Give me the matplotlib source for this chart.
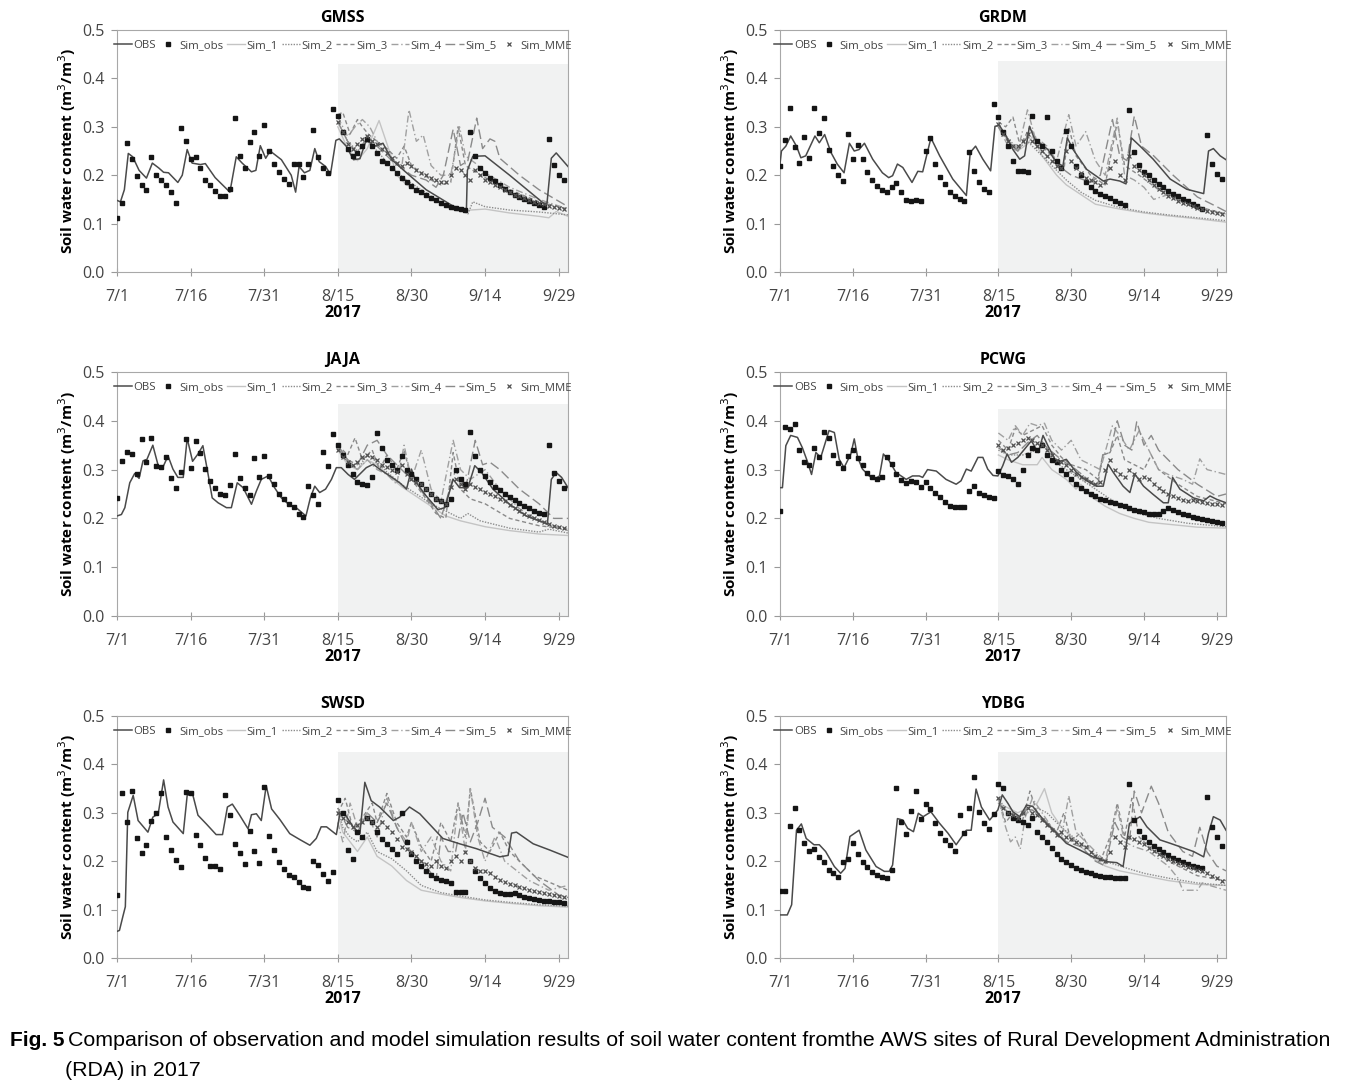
import numpy as np
import matplotlib
matplotlib.use("Agg")
import matplotlib.pyplot as plt

# days counted from 7/1; the forecast period (shaded) starts 8/15 = day 45
tick_days = [0, 15, 30, 45, 60, 75, 90]
tick_labels = ["7/1", "7/16", "7/31", "8/15", "8/30", "9/14", "9/29"]
sim_names = ["Sim_1", "Sim_2", "Sim_3", "Sim_4", "Sim_5"]

# ---------------- GMSS ----------------
gmss_obs = [(0, 0.148), (0.7, 0.145), (1.5, 0.17), (2.3, 0.245), (3.2, 0.238), (4.5, 0.21), (6, 0.194),
            (7.2, 0.225), (8.5, 0.215), (9.5, 0.206), (10.5, 0.205), (12.4, 0.185), (13.3, 0.2), (14.3, 0.253),
            (15.3, 0.225), (17, 0.222), (18, 0.224), (20, 0.195), (22, 0.175), (23, 0.165), (24.3, 0.238),
            (25.5, 0.225), (27.4, 0.207), (28.3, 0.21), (29.2, 0.261), (30.3, 0.235), (31.2, 0.25), (33.5, 0.232),
            (35.5, 0.2), (36.4, 0.165), (37.1, 0.218), (38.2, 0.205), (39.3, 0.21), (40.3, 0.255), (41.2, 0.228),
            (42.5, 0.218), (43.5, 0.202), (44.6, 0.272), (45.3, 0.275), (46.7, 0.26), (48.2, 0.232), (49.5, 0.234),
            (50.8, 0.273), (52.5, 0.26), (54.2, 0.266), (56, 0.232), (59, 0.205), (63, 0.17), (68.5, 0.136),
            (71.2, 0.129), (71.4, 0.21), (72.5, 0.239), (75, 0.24), (80, 0.2), (86.8, 0.143), (87.6, 0.14),
            (88.5, 0.235), (89.5, 0.246), (91.9, 0.218)]
gmss_simobs = [0.111, 0.143, 0.266, 0.234, 0.199, 0.18, 0.169, 0.238, 0.201, 0.191,
               0.18, 0.165, 0.143, 0.297, 0.27, 0.234, 0.238, 0.214, 0.191, 0.179,
               0.168, 0.158, 0.157, 0.172, 0.319, 0.24, 0.214, 0.269, 0.289, 0.24,
               0.303, 0.251, 0.223, 0.206, 0.193, 0.182, 0.223, 0.223, 0.196, 0.223,
               0.294, 0.238, 0.214, 0.205, 0.337,
               0.323, 0.29, 0.255, 0.24, 0.245, 0.26, 0.275, 0.26, 0.245, 0.23,
               0.225, 0.215, 0.205, 0.195, 0.185, 0.178, 0.17, 0.165, 0.16, 0.153,
               0.148, 0.143, 0.138, 0.135, 0.132, 0.13, 0.128, 0.29, 0.24, 0.215,
               0.205, 0.195, 0.188, 0.18, 0.172, 0.166, 0.16, 0.155, 0.15, 0.146,
               0.142, 0.138, 0.135, 0.275, 0.222, 0.201, 0.19]
gmss_sim1 = [(45, 0.3), (47, 0.255), (49, 0.23), (51, 0.255), (53.4, 0.313), (55.5, 0.25), (57, 0.2), (59, 0.18),
             (62, 0.165), (65, 0.15), (68, 0.13), (70, 0.125), (72, 0.128), (75, 0.13), (80, 0.122), (86, 0.115),
             (88, 0.112), (89.5, 0.125), (91.9, 0.115)]
gmss_sim2 = [(45, 0.31), (47, 0.27), (49, 0.25), (51, 0.27), (53, 0.25), (56, 0.215), (59, 0.19), (62, 0.17),
             (65, 0.15), (68, 0.135), (70, 0.13), (71.5, 0.12), (72.5, 0.145), (75, 0.135), (80, 0.128), (86, 0.124),
             (91.9, 0.118)]
gmss_sim3 = [(45, 0.325), (46, 0.33), (47.5, 0.285), (49, 0.315), (50, 0.3), (51.2, 0.285), (53, 0.27), (55, 0.255),
             (57, 0.235), (58.5, 0.26), (60, 0.22), (62, 0.205), (64, 0.19), (66, 0.18), (68, 0.185), (69.5, 0.3),
             (71, 0.22), (72.5, 0.21), (75, 0.195), (80, 0.17), (86, 0.145), (91.9, 0.13)]
gmss_sim4 = [(45, 0.32), (47, 0.28), (48.5, 0.3), (50, 0.315), (51.5, 0.3), (53, 0.27), (56, 0.235), (58, 0.215),
             (59.5, 0.335), (61, 0.27), (62.4, 0.283), (64, 0.22), (66, 0.2), (68, 0.2), (69.8, 0.3), (71, 0.24),
             (73, 0.225), (75, 0.205), (80, 0.175), (86, 0.15), (91.9, 0.13)]
gmss_sim5 = [(45, 0.31), (47, 0.27), (49, 0.245), (51, 0.28), (53, 0.26), (56, 0.23), (60, 0.2), (63, 0.19),
             (65, 0.175), (66.5, 0.2), (68.5, 0.295), (70, 0.22), (71.5, 0.23), (73.3, 0.318), (74.5, 0.255),
             (76, 0.275), (77, 0.27), (78, 0.235), (82, 0.2), (86, 0.17), (91.9, 0.135)]
gmss_mme = [0.31, 0.29, 0.265, 0.255, 0.265, 0.275, 0.28, 0.27, 0.265, 0.255,
            0.245, 0.235, 0.225, 0.218, 0.225, 0.22, 0.21, 0.205, 0.2, 0.195,
            0.19, 0.185, 0.185, 0.2, 0.215, 0.21, 0.2, 0.19, 0.21, 0.2,
            0.19, 0.185, 0.18, 0.175, 0.17, 0.165, 0.16, 0.156, 0.152, 0.148,
            0.145, 0.142, 0.14, 0.137, 0.135, 0.132, 0.13]

# ---------------- GRDM ----------------
grdm_obs = [(0, 0.223), (0.3, 0.25), (1.2, 0.26), (2.2, 0.281), (3.4, 0.26), (4.3, 0.236), (5.3, 0.24), (7.2, 0.281),
            (8.1, 0.267), (9.2, 0.284), (10.5, 0.247), (11.8, 0.223), (13.2, 0.205), (14.3, 0.266), (15.3, 0.25),
            (16.3, 0.253), (17.4, 0.266), (19.1, 0.233), (21.1, 0.205), (22.4, 0.195), (23.2, 0.199), (24.2, 0.223),
            (25.3, 0.216), (27.2, 0.185), (28.4, 0.208), (29.4, 0.207), (31.1, 0.277), (32.9, 0.24), (35.6, 0.192),
            (38.4, 0.158), (39.2, 0.247), (40.3, 0.26), (41.8, 0.233), (43.4, 0.209), (44.3, 0.301), (45.2, 0.303),
            (46.6, 0.281), (48, 0.253), (49.4, 0.233), (50.4, 0.24), (51.4, 0.301), (52.5, 0.274), (53.5, 0.267),
            (55.2, 0.253), (57, 0.226), (58.3, 0.219), (59.2, 0.277), (60.4, 0.253), (63.2, 0.212), (66.6, 0.188),
            (68, 0.192), (70, 0.188), (71.3, 0.182), (72.4, 0.277), (74.2, 0.26), (76.9, 0.233), (80.4, 0.192),
            (83.8, 0.171), (87.3, 0.162), (88.3, 0.25), (89.3, 0.255), (90.7, 0.24), (91.9, 0.232)]
grdm_simobs = [0.22, 0.272, 0.339, 0.258, 0.225, 0.279, 0.236, 0.339, 0.288, 0.318,
               0.252, 0.219, 0.2, 0.188, 0.286, 0.234, 0.262, 0.234, 0.207, 0.19,
               0.178, 0.17, 0.166, 0.176, 0.183, 0.166, 0.149, 0.147, 0.149, 0.147,
               0.249, 0.277, 0.224, 0.197, 0.181, 0.166, 0.156, 0.151, 0.147, 0.247,
               0.208, 0.186, 0.171, 0.166, 0.347,
               0.321, 0.29, 0.26, 0.229, 0.209, 0.209, 0.207, 0.323, 0.27, 0.26,
               0.32, 0.25, 0.23, 0.215, 0.291, 0.26, 0.22, 0.2, 0.185, 0.175,
               0.168, 0.162, 0.158, 0.152, 0.147, 0.142, 0.139, 0.334, 0.247, 0.222,
               0.207, 0.2, 0.19, 0.182, 0.175, 0.168, 0.162, 0.156, 0.151, 0.146,
               0.141, 0.136, 0.13, 0.284, 0.223, 0.203, 0.192]
grdm_sim1 = [(45, 0.3), (47, 0.27), (49, 0.25), (51, 0.265), (52, 0.28), (54, 0.24), (57, 0.2), (59, 0.18),
             (62, 0.16), (65, 0.14), (70, 0.13), (75, 0.122), (80, 0.116), (86, 0.11), (91.9, 0.103)]
grdm_sim2 = [(45, 0.305), (47, 0.275), (49, 0.255), (51, 0.27), (53, 0.25), (56, 0.22), (59, 0.19), (62, 0.165),
             (65, 0.148), (70, 0.133), (75, 0.124), (80, 0.118), (86, 0.112), (91.9, 0.106)]
grdm_sim3 = [(45, 0.31), (46.5, 0.3), (48, 0.32), (49.5, 0.26), (51.5, 0.3), (53, 0.27), (56, 0.24), (58.5, 0.21),
             (59.5, 0.3), (61, 0.24), (64, 0.2), (67, 0.18), (69.5, 0.31), (71, 0.22), (74, 0.2), (78, 0.17),
             (83, 0.145), (88, 0.13), (91.9, 0.12)]
grdm_sim4 = [(45, 0.3), (47, 0.26), (49, 0.25), (51, 0.335), (52.5, 0.28), (55, 0.26), (57, 0.23), (59.5, 0.325),
             (61, 0.26), (63, 0.29), (65, 0.23), (67, 0.2), (69.5, 0.318), (71, 0.2), (73, 0.19), (75, 0.175),
             (77, 0.15), (80, 0.16), (84, 0.14), (88, 0.128), (91.9, 0.12)]
grdm_sim5 = [(45, 0.3), (47, 0.27), (49, 0.25), (51, 0.28), (53, 0.26), (56, 0.23), (60, 0.2), (64, 0.185),
             (66, 0.2), (68.5, 0.315), (70, 0.24), (71.5, 0.23), (73, 0.322), (74.5, 0.26), (77, 0.24), (81, 0.2),
             (86, 0.155), (90, 0.135), (91.9, 0.125)]
grdm_mme = [0.305, 0.285, 0.27, 0.26, 0.26, 0.27, 0.285, 0.27, 0.26, 0.25,
            0.24, 0.23, 0.22, 0.215, 0.25, 0.23, 0.215, 0.205, 0.195, 0.19,
            0.185, 0.18, 0.185, 0.215, 0.23, 0.2, 0.19, 0.24, 0.22, 0.21,
            0.2, 0.19, 0.18, 0.172, 0.165, 0.158, 0.152, 0.147, 0.143, 0.14,
            0.136, 0.133, 0.13, 0.127, 0.125, 0.122, 0.12]

# ---------------- JAJA ----------------
jaja_obs = [(0, 0.205), (0.9, 0.208), (1.6, 0.222), (2.6, 0.273), (3.6, 0.292), (4.5, 0.282), (5.3, 0.318),
            (6.1, 0.321), (7.3, 0.35), (8.4, 0.308), (9.4, 0.306), (10.4, 0.328), (11.4, 0.301), (12.4, 0.284),
            (13.5, 0.284), (14.3, 0.364), (15.4, 0.317), (16.5, 0.332), (17.5, 0.349), (18.5, 0.294), (19.4, 0.242),
            (20.6, 0.232), (22.3, 0.222), (23.3, 0.222), (24.5, 0.273), (25.7, 0.263), (27.4, 0.229), (28.4, 0.256),
            (29.4, 0.28), (30.8, 0.287), (32.1, 0.263), (33.5, 0.242), (35.2, 0.227), (36.5, 0.222), (38.5, 0.205),
            (39.4, 0.242), (40.3, 0.266), (41.3, 0.253), (42.5, 0.26), (43.7, 0.28), (44.7, 0.304), (45.7, 0.304),
            (47.1, 0.29), (48.4, 0.28), (49.8, 0.294), (50.8, 0.304), (52.2, 0.311), (53.5, 0.301), (55.6, 0.287),
            (57.6, 0.273), (59, 0.26), (60, 0.301), (61, 0.273), (63, 0.246), (65.4, 0.218), (66.8, 0.222),
            (68.5, 0.28), (69.8, 0.263), (71.5, 0.263), (72.9, 0.308), (74.3, 0.294), (76.6, 0.26), (80, 0.229),
            (83.4, 0.205), (87.2, 0.191), (87.7, 0.188), (88.5, 0.28), (89.5, 0.294), (90.6, 0.284), (91.9, 0.263)]
jaja_simobs = [0.242, 0.318, 0.337, 0.332, 0.29, 0.363, 0.316, 0.365, 0.308, 0.306,
               0.325, 0.282, 0.262, 0.295, 0.363, 0.304, 0.358, 0.333, 0.302, 0.277,
               0.263, 0.251, 0.247, 0.269, 0.331, 0.282, 0.262, 0.248, 0.324, 0.285,
               0.327, 0.286, 0.271, 0.251, 0.239, 0.23, 0.223, 0.208, 0.203, 0.266,
               0.247, 0.23, 0.337, 0.307, 0.372,
               0.35, 0.33, 0.31, 0.29, 0.275, 0.27, 0.268, 0.285, 0.375, 0.345,
               0.32, 0.31, 0.3, 0.328, 0.3, 0.29, 0.28, 0.27, 0.26, 0.25,
               0.24, 0.235, 0.23, 0.24, 0.3, 0.28, 0.27, 0.378, 0.328, 0.3,
               0.287, 0.275, 0.265, 0.258, 0.25, 0.243, 0.237, 0.231, 0.226, 0.221,
               0.216, 0.212, 0.208, 0.35, 0.294, 0.277, 0.262]
jaja_sim1 = [(45, 0.34), (47, 0.31), (49, 0.3), (51, 0.32), (53, 0.31), (55, 0.29), (58, 0.265), (61, 0.245),
             (64, 0.225), (67, 0.205), (70, 0.195), (75, 0.183), (80, 0.175), (86, 0.168), (91.9, 0.165)]
jaja_sim2 = [(45, 0.345), (47, 0.315), (49, 0.3), (51, 0.33), (53, 0.315), (55, 0.295), (58, 0.27), (61, 0.25),
             (64, 0.23), (67, 0.215), (70, 0.2), (71.5, 0.21), (74, 0.195), (80, 0.18), (86, 0.172), (88, 0.178),
             (91.9, 0.17)]
jaja_sim3 = [(45, 0.35), (47, 0.33), (48.5, 0.365), (50, 0.32), (52, 0.34), (53.5, 0.3), (55, 0.33), (57, 0.3),
             (58.5, 0.34), (60, 0.28), (63, 0.24), (65, 0.21), (67, 0.2), (68.5, 0.335), (70, 0.26), (72, 0.24),
             (75, 0.23), (80, 0.2), (86, 0.185), (91.9, 0.178)]
jaja_sim4 = [(45, 0.345), (47, 0.32), (49, 0.3), (51, 0.32), (53, 0.3), (55, 0.29), (57, 0.27), (58.5, 0.35),
             (60, 0.28), (62, 0.34), (64, 0.26), (66, 0.235), (68.5, 0.36), (70, 0.3), (72, 0.28), (75, 0.3),
             (78, 0.26), (82, 0.22), (86, 0.195), (91.9, 0.175)]
jaja_sim5 = [(45, 0.35), (47, 0.32), (49, 0.31), (51, 0.35), (53, 0.36), (55, 0.33), (58, 0.3), (61, 0.27),
             (64, 0.23), (66, 0.2), (67.5, 0.25), (69, 0.3), (71, 0.26), (73, 0.36), (74.5, 0.31), (76, 0.315),
             (78, 0.3), (82, 0.26), (86, 0.23), (89, 0.2), (91.9, 0.2)]
jaja_mme = [0.34, 0.325, 0.315, 0.31, 0.315, 0.325, 0.33, 0.325, 0.32, 0.31,
            0.305, 0.3, 0.295, 0.31, 0.29, 0.28, 0.275, 0.27, 0.26, 0.25,
            0.24, 0.235, 0.23, 0.265, 0.28, 0.27, 0.26, 0.27, 0.265, 0.26,
            0.255, 0.25, 0.245, 0.24, 0.235, 0.228, 0.222, 0.216, 0.21, 0.205,
            0.2, 0.196, 0.192, 0.188, 0.185, 0.182, 0.18]

# ---------------- PCWG ----------------
pcwg_obs = [(0, 0.263), (0.5, 0.263), (1.2, 0.349), (2.2, 0.37), (3.6, 0.366), (4.6, 0.345), (5.6, 0.318),
            (6.5, 0.29), (7.4, 0.335), (8.4, 0.325), (10.1, 0.38), (11.2, 0.376), (12.2, 0.321), (13.2, 0.304),
            (14.6, 0.332), (15.3, 0.363), (16, 0.325), (17, 0.301), (18.4, 0.287), (19.4, 0.28), (20.5, 0.287),
            (21.3, 0.332), (22.5, 0.318), (23.9, 0.294), (26, 0.28), (27.3, 0.287), (28.7, 0.287), (29.4, 0.284),
            (30.4, 0.3), (32.2, 0.297), (34.2, 0.28), (36.3, 0.27), (37.3, 0.277), (38.4, 0.301), (39.4, 0.297),
            (40.8, 0.325), (41.8, 0.325), (42.8, 0.301), (43.9, 0.288), (44.9, 0.287), (45.9, 0.308), (46.8, 0.332),
            (47.7, 0.315), (49, 0.325), (50.4, 0.342), (51.8, 0.359), (53.2, 0.335), (54.2, 0.37), (55.2, 0.349),
            (57, 0.315), (59, 0.321), (61.1, 0.294), (63.2, 0.277), (65.2, 0.266), (66.6, 0.266), (67.6, 0.311),
            (68.7, 0.294), (70.7, 0.266), (72.1, 0.253), (73.1, 0.291), (74.9, 0.266), (76.9, 0.249), (79, 0.232),
            (80, 0.232), (80.9, 0.284), (82.4, 0.26), (85.2, 0.242), (87.3, 0.236), (88.6, 0.246), (90, 0.239),
            (91.9, 0.232)]
pcwg_simobs = [0.215, 0.387, 0.383, 0.394, 0.34, 0.315, 0.31, 0.345, 0.325, 0.378,
               0.365, 0.33, 0.313, 0.303, 0.328, 0.34, 0.323, 0.309, 0.294, 0.284,
               0.28, 0.285, 0.325, 0.311, 0.292, 0.278, 0.272, 0.277, 0.275, 0.264,
               0.275, 0.263, 0.253, 0.244, 0.233, 0.225, 0.224, 0.224, 0.224, 0.256,
               0.266, 0.253, 0.248, 0.244, 0.242,
               0.297, 0.288, 0.287, 0.28, 0.27, 0.3, 0.33, 0.345, 0.34, 0.35,
               0.33, 0.32, 0.315, 0.3, 0.29, 0.28, 0.27, 0.263, 0.256, 0.25,
               0.245, 0.24, 0.237, 0.234, 0.232, 0.228, 0.225, 0.222, 0.218, 0.215,
               0.213, 0.21, 0.209, 0.208, 0.215, 0.222, 0.218, 0.214, 0.21, 0.206,
               0.203, 0.2, 0.198, 0.196, 0.195, 0.193, 0.191]
pcwg_sim1 = [(45, 0.33), (47, 0.32), (50, 0.31), (53, 0.31), (54, 0.325), (56, 0.3), (59, 0.28), (61, 0.26),
             (62, 0.27), (64, 0.245), (67, 0.225), (70, 0.21), (73, 0.2), (76, 0.192), (80, 0.188), (86, 0.182),
             (91.9, 0.18)]
pcwg_sim2 = [(45, 0.34), (47, 0.33), (50, 0.33), (53, 0.34), (54.5, 0.35), (56, 0.32), (59, 0.3), (62, 0.28),
             (65, 0.26), (68, 0.24), (71, 0.225), (74, 0.21), (78, 0.2), (84, 0.19), (91.9, 0.183)]
pcwg_sim3 = [(45, 0.36), (47, 0.34), (48.5, 0.385), (50, 0.37), (52, 0.38), (54, 0.39), (56, 0.35), (58, 0.325),
             (60, 0.31), (63, 0.3), (65.5, 0.28), (66.5, 0.33), (68, 0.335), (69.5, 0.37), (71, 0.32), (73, 0.31),
             (75, 0.3), (76.5, 0.33), (78, 0.3), (82, 0.27), (86, 0.245), (91.9, 0.23)]
pcwg_sim4 = [(45, 0.375), (47, 0.36), (48.5, 0.39), (50, 0.37), (51.5, 0.395), (53, 0.39), (54.5, 0.395), (56, 0.36),
             (58, 0.34), (60, 0.36), (62, 0.32), (64, 0.31), (66, 0.3), (68.5, 0.39), (70, 0.37), (72, 0.34),
             (74, 0.38), (76, 0.34), (78, 0.3), (80, 0.29), (83, 0.28), (85, 0.27), (86.5, 0.322), (88, 0.3),
             (90, 0.295), (91.9, 0.29)]
pcwg_sim5 = [(45, 0.345), (47, 0.33), (49, 0.335), (51, 0.355), (53, 0.37), (55, 0.345), (58, 0.32), (61, 0.3),
             (64, 0.275), (65.5, 0.27), (66.5, 0.33), (68, 0.335), (69.5, 0.4), (71, 0.35), (72.5, 0.34),
             (73.5, 0.398), (75, 0.35), (76.5, 0.37), (78, 0.34), (82, 0.3), (86, 0.27), (90, 0.245), (91.9, 0.25)]
pcwg_mme = [0.35, 0.34, 0.345, 0.35, 0.355, 0.36, 0.365, 0.36, 0.355, 0.35,
            0.34, 0.33, 0.32, 0.315, 0.31, 0.3, 0.29, 0.285, 0.28, 0.275,
            0.27, 0.275, 0.3, 0.32, 0.3, 0.29, 0.285, 0.3, 0.29, 0.28,
            0.285, 0.28, 0.27, 0.262, 0.256, 0.25, 0.246, 0.242, 0.238, 0.236,
            0.238, 0.236, 0.234, 0.232, 0.23, 0.229, 0.228]

# ---------------- SWSD ----------------
swsd_obs = [(0, 0.055), (0.5, 0.057), (1.2, 0.086), (1.7, 0.106), (2.2, 0.301), (3.3, 0.336), (4.3, 0.284),
            (6.3, 0.26), (7.3, 0.291), (8.4, 0.298), (9.5, 0.368), (10.4, 0.312), (11.4, 0.281), (13.5, 0.257),
            (14.3, 0.336), (15.4, 0.339), (16.5, 0.295), (18.2, 0.277), (20.2, 0.255), (21.5, 0.255), (22.5, 0.312),
            (23.5, 0.318), (25, 0.295), (26.7, 0.267), (27.4, 0.296), (28.4, 0.298), (29.4, 0.284), (30.4, 0.356),
            (31.5, 0.308), (33.2, 0.286), (35.2, 0.257), (37.2, 0.245), (39.3, 0.233), (40.6, 0.247), (41.6, 0.271),
            (42.7, 0.271), (44.7, 0.255), (45.4, 0.298), (46.4, 0.298), (48.1, 0.271), (49.5, 0.257), (50.5, 0.363),
            (51.8, 0.325), (53.5, 0.312), (56.3, 0.284), (57.6, 0.291), (59.6, 0.312), (61.7, 0.298), (66.4, 0.247),
            (69.8, 0.236), (73.2, 0.226), (76, 0.216), (78, 0.209), (79.7, 0.212), (80.4, 0.258), (81.4, 0.26),
            (84.8, 0.236), (88.2, 0.223), (91.9, 0.208)]
swsd_simobs = [0.13, 0.34, 0.281, 0.346, 0.247, 0.217, 0.233, 0.283, 0.299, 0.34,
               0.25, 0.223, 0.202, 0.187, 0.344, 0.34, 0.255, 0.234, 0.207, 0.19,
               0.191, 0.183, 0.337, 0.295, 0.236, 0.216, 0.195, 0.262, 0.221, 0.197,
               0.354, 0.253, 0.224, 0.199, 0.183, 0.171, 0.168, 0.158, 0.146, 0.145,
               0.201, 0.192, 0.173, 0.159, 0.178,
               0.327, 0.3, 0.224, 0.205, 0.26, 0.25, 0.29, 0.28, 0.26, 0.245,
               0.235, 0.225, 0.215, 0.3, 0.24, 0.215, 0.2, 0.19, 0.18, 0.172,
               0.166, 0.162, 0.16, 0.155, 0.137, 0.137, 0.137, 0.2, 0.18, 0.165,
               0.155, 0.145, 0.138, 0.135, 0.133, 0.132, 0.134, 0.13, 0.127, 0.124,
               0.122, 0.12, 0.118, 0.117, 0.116, 0.115, 0.114]
swsd_sim1 = [(45, 0.3), (46, 0.26), (47.5, 0.24), (49, 0.22), (51, 0.25), (53, 0.21), (56, 0.19), (59, 0.16),
             (62, 0.14), (66, 0.132), (70, 0.125), (75, 0.118), (80, 0.113), (86, 0.108), (91.9, 0.105)]
swsd_sim2 = [(45, 0.31), (46, 0.27), (47.5, 0.25), (49, 0.24), (51, 0.26), (53, 0.22), (56, 0.205), (59, 0.18),
             (62, 0.15), (66, 0.135), (70, 0.128), (75, 0.12), (80, 0.115), (86, 0.11), (91.9, 0.107)]
swsd_sim3 = [(45, 0.3), (46.5, 0.33), (48, 0.27), (50, 0.29), (52, 0.32), (53, 0.28), (55, 0.34), (57, 0.28),
             (59, 0.25), (60, 0.28), (62, 0.23), (64, 0.2), (66, 0.28), (68, 0.24), (69.5, 0.32), (71, 0.25),
             (72, 0.35), (74, 0.24), (76, 0.22), (78, 0.26), (80, 0.22), (85, 0.17), (91.9, 0.14)]
swsd_sim4 = [(45, 0.28), (46, 0.24), (47.5, 0.32), (49, 0.27), (51, 0.3), (53, 0.25), (55, 0.33), (57, 0.27),
             (59, 0.24), (60, 0.28), (62, 0.22), (64, 0.25), (66, 0.2), (68, 0.18), (69.5, 0.32), (71, 0.22),
             (72, 0.35), (73.5, 0.25), (75, 0.2), (77, 0.25), (79, 0.2), (84, 0.16), (88, 0.14), (91.9, 0.15)]
swsd_sim5 = [(45, 0.31), (47, 0.27), (49, 0.26), (51, 0.3), (53, 0.28), (55, 0.32), (57, 0.27), (59, 0.23),
             (61, 0.21), (63, 0.19), (65, 0.16), (66, 0.25), (67.5, 0.22), (69, 0.22), (70.5, 0.3), (72, 0.24),
             (73.5, 0.28), (75, 0.33), (76.5, 0.27), (79, 0.25), (82, 0.2), (86, 0.16), (90, 0.13), (91.9, 0.125)]
swsd_mme = [0.3, 0.29, 0.28, 0.27, 0.275, 0.28, 0.29, 0.28, 0.27, 0.28,
            0.27, 0.26, 0.245, 0.23, 0.225, 0.22, 0.21, 0.2, 0.195, 0.19,
            0.2, 0.19, 0.185, 0.2, 0.21, 0.2, 0.22, 0.2, 0.185, 0.18,
            0.18, 0.175, 0.168, 0.162, 0.158, 0.153, 0.15, 0.147, 0.144, 0.141,
            0.138, 0.136, 0.134, 0.132, 0.13, 0.128, 0.127]

# ---------------- YDBG ----------------
ydbg_obs = [(0, 0.089), (1.5, 0.089), (2.4, 0.11), (3.4, 0.264), (4.4, 0.277), (5.4, 0.247), (7, 0.234),
            (8.1, 0.234), (9.4, 0.22), (11.2, 0.189), (12.5, 0.175), (13.4, 0.185), (14.4, 0.251), (16.3, 0.264),
            (17.7, 0.223), (19.8, 0.189), (21.5, 0.179), (22.5, 0.179), (23.2, 0.192), (24.2, 0.288), (25.3, 0.285),
            (26.3, 0.268), (27.5, 0.261), (28.5, 0.299), (29.5, 0.292), (31.1, 0.302), (32.9, 0.278), (34.6, 0.258),
            (36.3, 0.234), (38.4, 0.264), (39.4, 0.264), (40.4, 0.349), (41.5, 0.312), (43.2, 0.285), (44.9, 0.306),
            (45.8, 0.337), (47, 0.319), (48, 0.302), (49.4, 0.292), (50.8, 0.316), (52.1, 0.313), (54.5, 0.282),
            (57, 0.258), (59, 0.237), (61.8, 0.223), (64.5, 0.209), (67.3, 0.199), (69.4, 0.197), (70.7, 0.189),
            (72, 0.278), (74.2, 0.292), (75.6, 0.271), (78.3, 0.244), (80.4, 0.237), (82.4, 0.23), (85.2, 0.22),
            (87.3, 0.209), (88.3, 0.258), (89.3, 0.292), (90.7, 0.285), (91.9, 0.264)]
ydbg_simobs = [0.138, 0.138, 0.272, 0.31, 0.265, 0.238, 0.222, 0.225, 0.208, 0.198,
               0.182, 0.175, 0.168, 0.198, 0.205, 0.238, 0.214, 0.198, 0.187, 0.178,
               0.172, 0.168, 0.165, 0.182, 0.352, 0.28, 0.256, 0.303, 0.345, 0.288,
               0.318, 0.308, 0.278, 0.258, 0.244, 0.233, 0.222, 0.296, 0.258, 0.31,
               0.375, 0.302, 0.279, 0.266, 0.298,
               0.36, 0.352, 0.3, 0.29, 0.285, 0.28, 0.275, 0.29, 0.26, 0.25,
               0.24, 0.228, 0.215, 0.205, 0.198, 0.192, 0.186, 0.182, 0.178, 0.175,
               0.172, 0.17, 0.168, 0.167, 0.166, 0.165, 0.165, 0.36, 0.285, 0.262,
               0.25, 0.24, 0.232, 0.225, 0.218, 0.212, 0.207, 0.202, 0.198, 0.194,
               0.19, 0.187, 0.185, 0.332, 0.271, 0.25, 0.232]
ydbg_sim1 = [(45, 0.32), (47, 0.31), (49, 0.3), (51, 0.31), (53, 0.32), (54.5, 0.35), (56, 0.3), (58, 0.27),
             (61, 0.24), (64, 0.21), (67, 0.19), (70, 0.18), (75, 0.17), (80, 0.16), (86, 0.152), (91.9, 0.15)]
ydbg_sim2 = [(45, 0.33), (47, 0.3), (49, 0.29), (51, 0.3), (53, 0.31), (55, 0.3), (58, 0.27), (61, 0.245),
             (64, 0.22), (67, 0.2), (70, 0.19), (75, 0.175), (80, 0.165), (86, 0.155), (91.9, 0.15)]
ydbg_sim3 = [(45, 0.33), (46.5, 0.28), (48, 0.3), (50, 0.285), (51.5, 0.345), (53, 0.3), (55, 0.28), (57, 0.26),
             (58.5, 0.3), (60, 0.24), (62, 0.26), (64, 0.22), (66, 0.2), (68, 0.25), (69.5, 0.32), (71, 0.25),
             (72.5, 0.33), (74, 0.25), (76, 0.23), (80, 0.2), (86, 0.17), (91.9, 0.16)]
ydbg_sim4 = [(45, 0.33), (46.5, 0.27), (47.5, 0.24), (48.5, 0.25), (49.5, 0.225), (50.5, 0.29), (52, 0.33),
             (54, 0.3), (56, 0.27), (58, 0.25), (59.5, 0.335), (61, 0.26), (63, 0.24), (65, 0.22), (67, 0.2),
             (69.5, 0.31), (71, 0.24), (73, 0.23), (76, 0.22), (80, 0.19), (82, 0.165), (83, 0.14), (86, 0.14),
             (87, 0.155), (88.5, 0.15), (91.9, 0.14)]
ydbg_sim5 = [(45, 0.32), (47, 0.3), (49, 0.29), (51, 0.31), (53, 0.3), (56, 0.27), (59, 0.24), (62, 0.23),
             (65, 0.2), (67, 0.19), (69, 0.28), (70.5, 0.25), (72, 0.24), (73, 0.345), (74.5, 0.3), (76.5, 0.355),
             (78, 0.32), (80, 0.26), (83, 0.22), (85, 0.21), (86.5, 0.27), (88, 0.22), (90, 0.19), (91.9, 0.18)]
ydbg_mme = [0.33, 0.31, 0.3, 0.295, 0.29, 0.3, 0.31, 0.3, 0.295, 0.285,
            0.275, 0.265, 0.255, 0.26, 0.25, 0.245, 0.24, 0.235, 0.23, 0.22,
            0.21, 0.205, 0.2, 0.22, 0.25, 0.24, 0.23, 0.25, 0.245, 0.24,
            0.235, 0.228, 0.222, 0.215, 0.21, 0.205, 0.2, 0.196, 0.192, 0.188,
            0.185, 0.182, 0.18, 0.175, 0.17, 0.165, 0.16]

panels = [
    ("GMSS", gmss_obs, gmss_simobs, [gmss_sim1, gmss_sim2, gmss_sim3, gmss_sim4, gmss_sim5], gmss_mme, 0.43),
    ("GRDM", grdm_obs, grdm_simobs, [grdm_sim1, grdm_sim2, grdm_sim3, grdm_sim4, grdm_sim5], grdm_mme, 0.435),
    ("JAJA", jaja_obs, jaja_simobs, [jaja_sim1, jaja_sim2, jaja_sim3, jaja_sim4, jaja_sim5], jaja_mme, 0.435),
    ("PCWG", pcwg_obs, pcwg_simobs, [pcwg_sim1, pcwg_sim2, pcwg_sim3, pcwg_sim4, pcwg_sim5], pcwg_mme, 0.425),
    ("SWSD", swsd_obs, swsd_simobs, [swsd_sim1, swsd_sim2, swsd_sim3, swsd_sim4, swsd_sim5], swsd_mme, 0.425),
    ("YDBG", ydbg_obs, ydbg_simobs, [ydbg_sim1, ydbg_sim2, ydbg_sim3, ydbg_sim4, ydbg_sim5], ydbg_mme, 0.425),
]

sim_styles = [
    dict(color="#c4c4c4", lw=1.0, ls="-"),
    dict(color="#8c8c8c", lw=1.0, ls=(0, (1, 1))),
    dict(color="#8a8a8a", lw=1.0, ls=(0, (3, 2))),
    dict(color="#a0a0a0", lw=1.0, ls=(0, (5, 2, 1, 2))),
    dict(color="#8a8a8a", lw=1.0, ls=(0, (7, 3))),
]

plt.rcParams['font.family'] = ['Open Sans', 'DejaVu Sans']

W, H = 1357, 1090
fig = plt.figure(figsize=(W / 100, H / 100), dpi=100)

col_x = [(117, 568), (780, 1226)]
row_y = [(30, 272), (372, 616), (716, 958)]
X_MAX = 91.9


def draw_panel(ax, name, obs, simobs, sims, mme, shade_top):
    ax.axvspan(45, X_MAX, ymin=0, ymax=shade_top / 0.5, color="#f1f2f2", lw=0, zorder=0)
    ox, oy = zip(*obs)
    ax.plot(ox, oy, color="#4a4a4a", lw=1.1, label="OBS", zorder=4)
    ax.plot(np.arange(len(simobs)), simobs, ls="none", marker="s", ms=2.3, color="#151515",
            label="Sim_obs", zorder=5)
    for pts, style, nm in zip(sims, sim_styles, sim_names):
        sx, sy = zip(*pts)
        ax.plot(sx, sy, label=nm, zorder=3, **style)
    ax.plot(np.arange(45, 45 + len(mme)), mme, ls="none", marker="x", ms=3.0, mew=0.9, color="#505050",
            label="Sim_MME", zorder=5)

    ax.set_xlim(0, X_MAX)
    ax.set_ylim(0, 0.5)
    ax.set_xticks(tick_days)
    ax.set_xticklabels(tick_labels)
    ax.set_yticks(np.arange(0, 0.51, 0.1))
    ax.set_yticklabels([f"{v:.1f}" for v in np.arange(0, 0.51, 0.1)])
    ax.tick_params(axis="x", labelsize=11.5, colors="#999999", labelcolor="#444444",
                   direction="inout", length=6, width=0.8, pad=9)
    ax.tick_params(axis="y", labelsize=11.5, colors="#999999", labelcolor="#444444",
                   direction="out", length=4, width=0.8, pad=5)
    for sp in ax.spines.values():
        sp.set_color("#a8a8a8")
        sp.set_linewidth(0.8)
    ax.set_title(name, fontsize=11.5, fontweight="bold", pad=6)
    ax.set_xlabel("2017", fontsize=11.5, fontweight="bold", labelpad=0)
    ax.set_ylabel("Soil water content (m$^3$/m$^3$)", fontsize=11, fontweight="bold", labelpad=3)
    ax.legend(loc="upper center", bbox_to_anchor=(0.5, 1.0), ncol=8, fontsize=8.2, frameon=False,
              handlelength=1.6, handletextpad=0.15, columnspacing=0.3, borderaxespad=0.5,
              labelcolor="#444444")


for i, (name, obs, simobs, sims, mme, shade_top) in enumerate(panels):
    r, c = divmod(i, 2)
    x0, x1 = col_x[c]
    y0, y1 = row_y[r]
    ax = fig.add_axes([x0 / W, 1 - y1 / H, (x1 - x0) / W, (y1 - y0) / H])
    draw_panel(ax, name, obs, simobs, sims, mme, shade_top)

cap_font = ['Liberation Sans Narrow', 'Liberation Sans', 'DejaVu Sans']
fig.text(10 / W, 1 - 1041 / H, "Fig. 5", fontsize=15, fontweight="bold", va="center", family=cap_font)
fig.text(68 / W, 1 - 1041 / H,
         "Comparison of observation and model simulation results of soil water content fromthe AWS sites of "
         "Rural Development Administration", fontsize=15.4, va="center", family=cap_font)
fig.text(65 / W, 1 - 1071 / H, "(RDA) in 2017", fontsize=15.4, va="center", family=cap_font)

fig.savefig("out.png", dpi=100)
